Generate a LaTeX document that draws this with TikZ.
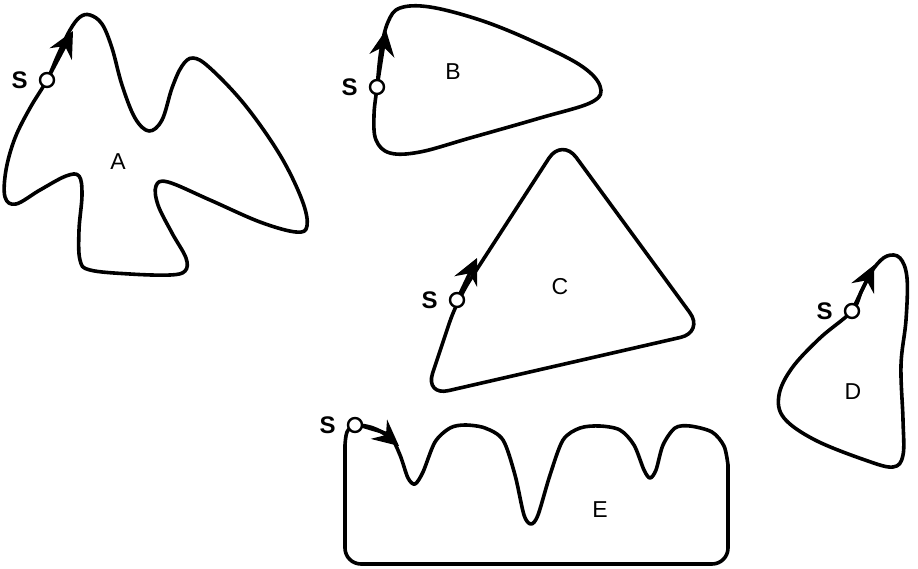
\documentclass[tikz,border=0pt]{standalone}
\usepackage{fontspec}
\setmainfont{Liberation Sans}
\usetikzlibrary{arrows.meta, positioning}

\begin{document}
\begin{tikzpicture}[
    x=1pt, y=-1pt,
    node distance=9pt,
    outline/.style = {line width=3.6pt, line join=round},
    startpt/.style = {circle, draw, fill=white, line width=2.4pt, inner sep=0pt, minimum size=14pt},
    slabel/.style = {inner sep=2pt, font=\fontsize{24}{28}\selectfont\bfseries},
    region/.style = {font=\fontsize{23}{27}\selectfont},
    flow/.style = {line width=3.6pt, -{Stealth[length=26pt, width=25pt, inset=9pt]}}]

    \useasboundingbox (0,0) rectangle (918,568);

    \draw[outline] plot[smooth cycle, tension=0.6] coordinates {(47,80) (58,55) (70,30) (80,17) (90,15) (102,24) (112,48) (122,85) (135,118) (149,131) (162,120) (172,88) (182,66) (193,58) (210,68) (245,105) (280,155) (302,200) (307,226) (296,232) (260,222) (210,200) (168,182) (156,186) (158,205) (172,233) (186,258) (185,271) (170,275) (130,274) (90,270) (80,260) (79,230) (82,195) (79,176) (66,176) (40,190) (16,204) (5,197) (6,170) (15,138) (30,108)};
    \draw[outline] plot[smooth cycle, tension=0.6] coordinates {(377,87) (381,50) (388,22) (400,8) (430,7) (480,20) (530,40) (580,65) (600,86) (592,102) (540,118) (470,138) (420,152) (390,153) (376,140) (374,115)};
    \draw[outline, rounded corners=24pt] (457,300) -- (562,138) -- (704,332) -- (425,396) -- cycle;
    \draw[outline] plot[smooth cycle, tension=0.6] coordinates {(852,311) (862,290) (874,268) (887,256) (900,258) (907,278) (906,320) (901,365) (903,420) (903,455) (893,467) (865,460) (815,440) (784,418) (779,395) (792,368) (820,338)};
    \draw[outline] plot[smooth, tension=0.5] coordinates {(345,445) (347,432) (355,425) (372,429) (390,436) (400,455) (408,478) (415,484) (423,472) (435,442) (450,428) (465,425) (485,428) (503,440) (515,475) (524,515) (531,524) (538,515) (550,475) (563,440) (580,428) (600,426) (620,430) (634,445) (644,470) (650,478) (656,470) (663,445) (675,428) (690,426) (712,432) (724,446) (728,465)}
        [rounded corners=16pt] -- (728,564) -- (345,564) -- (345,445);

    \node[region] (A) at (118,162) {A};
    \node[region] (B) at (453,72) {B};
    \node[region] (C) at (560,287) {C};
    \node[region] (D) at (853,392) {D};
    \node[region] (E) at (600,510) {E};

    \coordinate (tA) at (73,31);
    \coordinate (tB) at (386,30);
    \coordinate (tC) at (477,258);
    \coordinate (tD) at (874,265);
    \coordinate (tE) at (399,446);

    \draw[flow] (47,80) -- (tA);
    \draw[flow] (377,87) -- (tB);
    \draw[flow] (457,300) -- (tC);
    \draw[flow] (852,311) -- (tD);
    \draw[flow] (355,425) to[out=0, in=140] (tE);

    \node[startpt] (sA) at (47,80) {};
    \node[startpt] (sB) at (377,87) {};
    \node[startpt] (sC) at (457,300) {};
    \node[startpt] (sD) at (852,311) {};
    \node[startpt] (sE) at (355,425) {};

    \node[slabel, left=of sA] (lA) {S};
    \node[slabel, left=of sB] (lB) {S};
    \node[slabel, left=of sC] (lC) {S};
    \node[slabel, left=of sD] (lD) {S};
    \node[slabel, left=of sE] (lE) {S};
\end{tikzpicture}
\end{document}
